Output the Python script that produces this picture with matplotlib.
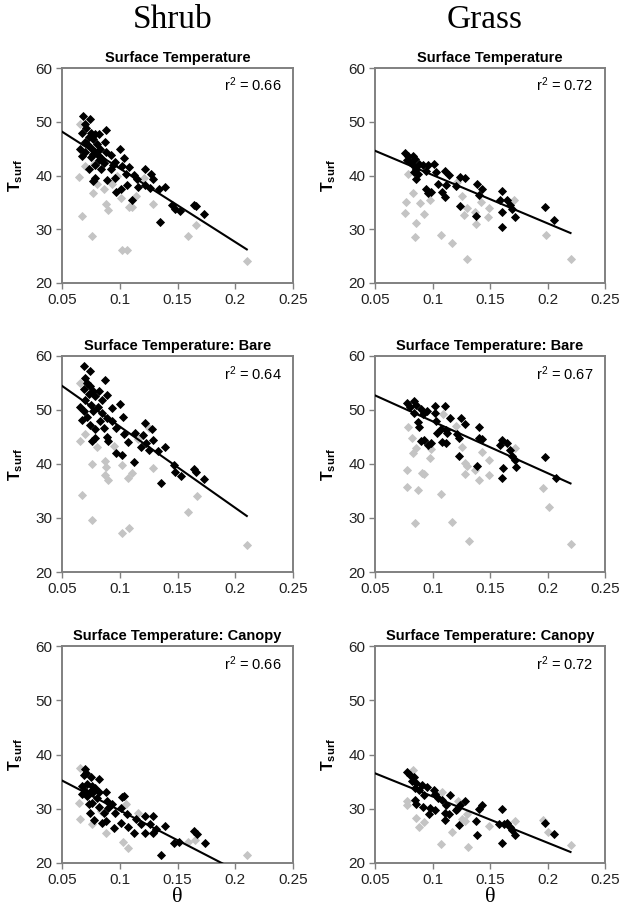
import matplotlib
matplotlib.use("Agg")
from matplotlib import pyplot as plt

plt.rcParams['font.family'] = ['Liberation Sans', 'DejaVu Sans']
plt.rcParams['mathtext.fontset'] = 'custom'
plt.rcParams['mathtext.rm'] = 'Liberation Sans'
plt.rcParams['mathtext.it'] = 'Liberation Sans:italic'
plt.rcParams['mathtext.bf'] = 'Liberation Sans:bold'

# ---- data ----
columns = ["Shrub", "Grass"]
panel_titles = ["Surface Temperature", "Surface Temperature: Bare", "Surface Temperature: Canopy"]
r2_labels = [["0.66", "0.72"], ["0.64", "0.67"], ["0.66", "0.72"]]

# regression lines: (intercept, slope, x start, x end)
shrub_fits = [(55.0, -136.9, 0.05, 0.21), (62.0, -150.6, 0.05, 0.21), (40.7, -110.0, 0.05, 0.21)]
grass_fits = [(49.1, -90.0, 0.05, 0.22), (57.5, -95.9, 0.05, 0.22), (40.8, -85.3, 0.05, 0.22)]

# Shrub - surface temperature
shrub_ts_black_x = [0.068, 0.074, 0.070, 0.071, 0.088, 0.067, 0.075, 0.079, 0.082, 0.073, 0.077, 0.087,
                    0.070, 0.080, 0.066, 0.075, 0.083, 0.100, 0.070, 0.079, 0.088, 0.067, 0.075, 0.092,
                    0.104, 0.082, 0.086, 0.096, 0.102, 0.073, 0.084, 0.092, 0.108, 0.122, 0.105, 0.112,
                    0.127, 0.129, 0.079, 0.077, 0.089, 0.096, 0.115, 0.122, 0.106, 0.126, 0.116, 0.134,
                    0.139, 0.101, 0.097, 0.111, 0.145, 0.148, 0.152, 0.164, 0.166, 0.173, 0.135,
                    0.072, 0.077, 0.081, 0.085, 0.079, 0.094]
shrub_ts_black_y = [51.0, 50.5, 49.6, 48.8, 48.5, 48.0, 48.0, 47.7, 47.7, 47.1, 46.8, 46.3,
                    46.2, 45.9, 45.0, 45.2, 45.0, 45.0, 44.3, 44.3, 44.3, 43.6, 43.4, 43.8,
                    43.2, 42.8, 42.4, 42.6, 41.8, 41.2, 41.2, 41.2, 41.5, 41.3, 40.3, 40.1,
                    40.3, 39.3, 39.5, 39.0, 39.2, 39.5, 39.3, 38.2, 38.2, 37.6, 37.8, 37.5,
                    37.8, 37.5, 36.9, 35.5, 34.5, 33.8, 33.4, 34.5, 34.3, 32.8, 31.4,
                    45.8, 44.0, 43.9, 43.0, 42.0, 42.0]
shrub_ts_gray_x = [0.066, 0.065, 0.067, 0.076, 0.077, 0.086, 0.088, 0.090, 0.102, 0.106, 0.108, 0.111,
                   0.101, 0.093, 0.121, 0.129, 0.114, 0.159, 0.166, 0.070, 0.080, 0.210, 0.078, 0.098]
shrub_ts_gray_y = [49.6, 39.8, 32.4, 28.7, 36.7, 37.4, 34.7, 33.6, 26.2, 26.2, 34.1, 34.1,
                   35.9, 38.4, 39.6, 34.7, 36.1, 28.7, 30.8, 41.8, 38.4, 24.1, 42.1, 40.0]

# Shrub - bare
shrub_bare_black_x = [0.069, 0.074, 0.070, 0.087, 0.072, 0.074, 0.069, 0.077, 0.082, 0.073, 0.079, 0.089,
                      0.070, 0.085, 0.066, 0.075, 0.081, 0.100, 0.093, 0.069, 0.077, 0.085, 0.072, 0.089,
                      0.103, 0.067, 0.083, 0.093, 0.074, 0.086, 0.097, 0.122, 0.079, 0.104, 0.113, 0.128,
                      0.089, 0.079, 0.076, 0.120, 0.129, 0.107, 0.123, 0.118, 0.125, 0.133, 0.139, 0.097,
                      0.102, 0.112, 0.147, 0.148, 0.153, 0.164, 0.166, 0.173, 0.136, 0.090]
shrub_bare_black_y = [58.1, 57.3, 55.9, 55.6, 55.0, 54.4, 53.8, 53.5, 53.5, 52.9, 52.6, 52.7,
                      51.9, 51.9, 50.5, 51.0, 50.5, 51.2, 50.3, 49.8, 49.9, 49.5, 48.7, 48.6,
                      48.7, 48.1, 47.9, 47.9, 47.2, 46.7, 46.7, 47.5, 46.4, 45.6, 45.8, 46.4,
                      45.0, 44.9, 44.3, 45.4, 44.4, 44.0, 43.8, 43.2, 42.5, 42.4, 43.2, 42.1,
                      41.7, 40.3, 39.9, 38.6, 37.8, 39.0, 38.6, 37.2, 36.4, 44.2]
shrub_bare_gray_x = [0.066, 0.070, 0.066, 0.080, 0.076, 0.087, 0.088, 0.087, 0.090, 0.102, 0.107, 0.111,
                     0.095, 0.129, 0.125, 0.067, 0.076, 0.102, 0.108, 0.159, 0.167, 0.210, 0.116]
shrub_bare_gray_y = [55.0, 45.5, 44.3, 43.2, 40.0, 40.5, 39.4, 38.0, 37.0, 39.8, 37.4, 38.4,
                     43.3, 39.2, 46.6, 34.3, 29.7, 27.2, 28.1, 31.2, 34.0, 25.0, 44.6]

# Shrub - canopy
shrub_can_black_x = [0.070, 0.071, 0.069, 0.075, 0.082, 0.067, 0.072, 0.076, 0.079, 0.070, 0.074, 0.077,
                     0.082, 0.088, 0.067, 0.072, 0.080, 0.102, 0.104, 0.076, 0.089, 0.073, 0.082, 0.090,
                     0.093, 0.101, 0.074, 0.086, 0.096, 0.106, 0.114, 0.122, 0.129, 0.078, 0.085, 0.101,
                     0.118, 0.126, 0.139, 0.095, 0.107, 0.131, 0.112, 0.122, 0.129, 0.164, 0.167, 0.147,
                     0.151, 0.174, 0.136, 0.088]
shrub_can_black_y = [37.4, 36.5, 36.2, 35.9, 35.4, 34.2, 34.5, 34.2, 33.9, 33.3, 33.1, 33.0,
                     33.0, 33.0, 32.7, 32.3, 32.0, 32.2, 32.3, 31.1, 31.4, 30.8, 30.3, 30.2,
                     30.8, 30.1, 29.3, 29.3, 29.3, 29.0, 28.2, 28.7, 28.7, 27.9, 27.4, 27.4,
                     27.1, 27.2, 26.9, 26.5, 26.6, 26.2, 25.6, 25.6, 25.6, 25.9, 25.3, 23.7,
                     23.9, 23.7, 21.5, 27.7]
shrub_can_gray_x = [0.066, 0.065, 0.066, 0.076, 0.088, 0.103, 0.107, 0.105, 0.116, 0.159, 0.165, 0.210,
                    0.084]
shrub_can_gray_y = [37.6, 31.1, 28.2, 27.1, 25.6, 23.9, 22.7, 30.8, 29.3, 23.9, 24.2, 21.5,
                    29.6]

# Grass - surface temperature
grass_ts_black_x = [0.076, 0.079, 0.083, 0.085, 0.078, 0.088, 0.092, 0.096, 0.101, 0.083, 0.086, 0.094,
                    0.103, 0.111, 0.114, 0.087, 0.086, 0.124, 0.128, 0.105, 0.112, 0.120, 0.139, 0.143,
                    0.094, 0.096, 0.099, 0.108, 0.111, 0.160, 0.140, 0.159, 0.165, 0.167, 0.169, 0.172,
                    0.124, 0.138, 0.160, 0.160, 0.198, 0.206, 0.080, 0.084]
grass_ts_black_y = [44.1, 43.6, 43.7, 43.1, 42.8, 42.2, 41.9, 42.0, 42.2, 41.9, 41.3, 40.9,
                    40.6, 40.9, 40.1, 40.3, 39.3, 39.7, 39.5, 38.5, 38.2, 38.0, 38.5, 37.4,
                    37.4, 36.8, 37.0, 37.0, 36.0, 37.1, 36.3, 35.4, 35.4, 34.5, 33.7, 32.3,
                    34.3, 32.5, 33.3, 30.4, 34.1, 31.7, 42.5, 40.6]
grass_ts_gray_x = [0.077, 0.076, 0.086, 0.085, 0.089, 0.093, 0.083, 0.079, 0.098, 0.107, 0.117, 0.130,
                   0.126, 0.127, 0.130, 0.137, 0.138, 0.142, 0.148, 0.149, 0.171, 0.199, 0.220, 0.121]
grass_ts_gray_y = [35.1, 33.1, 31.2, 28.6, 34.9, 32.9, 36.8, 40.3, 35.4, 29.0, 27.5, 24.4,
                   36.2, 32.6, 33.9, 33.3, 30.9, 35.1, 32.3, 33.9, 35.4, 29.0, 24.4, 38.7]

# Grass - bare
grass_bare_black_x = [0.078, 0.084, 0.086, 0.080, 0.090, 0.095, 0.102, 0.111, 0.084, 0.092, 0.102, 0.115,
                      0.125, 0.087, 0.103, 0.128, 0.088, 0.107, 0.112, 0.140, 0.104, 0.121, 0.113, 0.123,
                      0.093, 0.096, 0.099, 0.108, 0.112, 0.140, 0.143, 0.160, 0.159, 0.165, 0.167, 0.169,
                      0.172, 0.123, 0.139, 0.161, 0.160, 0.173, 0.198, 0.207, 0.090]
grass_bare_black_y = [51.3, 51.7, 50.9, 50.5, 50.2, 49.8, 50.7, 50.8, 49.4, 49.2, 49.4, 48.6,
                      48.6, 47.8, 48.0, 47.4, 46.9, 46.5, 46.3, 46.9, 45.7, 45.5, 45.7, 44.9,
                      44.5, 43.6, 43.8, 44.1, 43.8, 44.9, 44.7, 44.4, 43.6, 43.8, 42.6, 41.4,
                      40.8, 41.4, 39.7, 39.2, 37.4, 39.4, 41.3, 37.4, 44.2]
grass_bare_gray_x = [0.078, 0.078, 0.087, 0.085, 0.091, 0.093, 0.083, 0.086, 0.098, 0.079, 0.082, 0.099,
                     0.107, 0.117, 0.132, 0.126, 0.128, 0.130, 0.128, 0.137, 0.140, 0.143, 0.149, 0.149,
                     0.172, 0.196, 0.201, 0.220, 0.120, 0.109]
grass_bare_gray_y = [38.8, 35.7, 35.1, 29.0, 38.4, 38.2, 42.1, 43.0, 41.1, 46.9, 44.9, 42.7,
                     34.5, 29.3, 25.7, 43.2, 40.1, 39.7, 38.2, 38.8, 37.0, 42.2, 40.8, 38.0,
                     43.0, 35.5, 32.1, 25.2, 47.0, 49.2]

# Grass - canopy
grass_can_black_x = [0.078, 0.080, 0.084, 0.082, 0.086, 0.091, 0.095, 0.085, 0.088, 0.101, 0.102, 0.115,
                     0.093, 0.085, 0.105, 0.108, 0.128, 0.086, 0.092, 0.098, 0.102, 0.112, 0.121, 0.124,
                     0.143, 0.140, 0.160, 0.097, 0.111, 0.114, 0.120, 0.111, 0.138, 0.158, 0.162, 0.165,
                     0.167, 0.169, 0.172, 0.123, 0.139, 0.160, 0.198, 0.206]
grass_can_black_y = [36.7, 36.2, 35.9, 35.1, 34.8, 34.3, 34.0, 33.8, 33.4, 33.4, 32.8, 32.5,
                     32.5, 31.7, 32.0, 31.7, 31.5, 30.9, 30.3, 30.1, 29.8, 30.6, 30.0, 30.6,
                     30.6, 29.9, 29.9, 29.1, 29.3, 29.1, 29.7, 28.0, 27.8, 27.2, 27.2, 27.4,
                     26.6, 26.0, 25.2, 27.0, 25.1, 23.7, 27.4, 25.4]
grass_can_gray_x = [0.083, 0.078, 0.078, 0.086, 0.088, 0.093, 0.107, 0.117, 0.131, 0.126, 0.128, 0.130,
                    0.149, 0.172, 0.196, 0.200, 0.220, 0.108, 0.122]
grass_can_gray_y = [37.1, 31.5, 30.6, 28.3, 26.6, 27.5, 23.5, 25.7, 22.9, 28.1, 27.8, 29.1,
                    26.9, 27.7, 28.0, 25.7, 23.3, 33.1, 31.5]

shrub_panels = [(shrub_ts_black_x, shrub_ts_black_y, shrub_ts_gray_x, shrub_ts_gray_y),
                (shrub_bare_black_x, shrub_bare_black_y, shrub_bare_gray_x, shrub_bare_gray_y),
                (shrub_can_black_x, shrub_can_black_y, shrub_can_gray_x, shrub_can_gray_y)]
grass_panels = [(grass_ts_black_x, grass_ts_black_y, grass_ts_gray_x, grass_ts_gray_y),
                (grass_bare_black_x, grass_bare_black_y, grass_bare_gray_x, grass_bare_gray_y),
                (grass_can_black_x, grass_can_black_y, grass_can_gray_x, grass_can_gray_y)]

# ---- layout (pixel boxes converted to figure fractions) ----
W, H = 621, 919
col_left = [62, 375]
col_width = [231, 230]
row_top = [68, 356, 646]
row_height = [215, 216, 217]


def draw_panel(ax, pts, fit, title, r2):
	bx, by, gx, gy = pts
	ax.plot(gx, gy, 'D', color='#c4c4c4', ms=4.0, mec='#c4c4c4', mew=0.6, zorder=2)
	ax.plot(bx, by, 'D', color='black', ms=4.0, mec='black', mew=0.6, zorder=3)
	b0, b1, xa, xb = fit
	ax.plot([xa, xb], [b0 + b1 * xa, b0 + b1 * xb], color='black', lw=1.5, zorder=4)
	ax.set_xlim(0.05, 0.25)
	ax.set_ylim(20, 60)
	ax.set_xticks([0.05, 0.1, 0.15, 0.2, 0.25])
	ax.set_xticklabels(["0.05", "0.1", "0.15", "0.2", "0.25"])
	ax.set_yticks([20, 30, 40, 50, 60])
	for s in ax.spines.values():
		s.set_color('#808080')
		s.set_linewidth(1.4)
	ax.tick_params(direction='out', length=4, width=1.0, color='#808080',
				   labelsize=11, labelcolor='#222222', pad=3)
	ax.set_title(title, fontsize=10.5, fontweight='bold', pad=4)
	ax.text(0.95, 0.92, r'r$^2$ = ' + r2, transform=ax.transAxes, ha='right', va='center', fontsize=10.5)
	ax.set_ylabel(r'$\mathbf{T}_{\mathbf{surf}}$', fontsize=11.5)
	ax.yaxis.set_label_coords(-0.16, 0.5)


fig = plt.figure(figsize=(W / 100, H / 100), dpi=100)

for c, panels in enumerate([shrub_panels, grass_panels]):
	fits = shrub_fits if c == 0 else grass_fits
	for r in range(3):
		rect = [col_left[c] / W, 1 - (row_top[r] + row_height[r]) / H,
				col_width[c] / W, row_height[r] / H]
		ax = fig.add_axes(rect)
		draw_panel(ax, panels[r], fits[r], panel_titles[r], r2_labels[r][c])
		if r == 2:
			ax.set_xlabel('θ', family='Liberation Serif', fontsize=16, labelpad=1)
	# column heading
	fig.text((col_left[c] + col_width[c] / 2 - 5) / W, 1 - 20 / H, columns[c],
			 family='Liberation Serif', fontsize=24, ha='center', va='center')

fig.savefig('out.png', dpi=100)
